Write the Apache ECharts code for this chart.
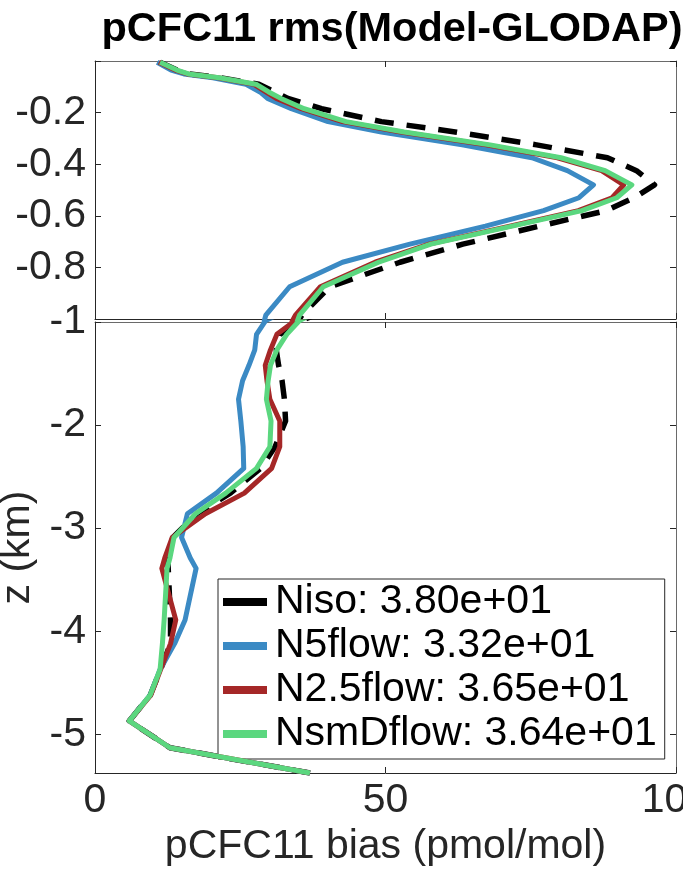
<!DOCTYPE html>
<html>
<head>
<meta charset="utf-8">
<script src="https://cdn.jsdelivr.net/npm/echarts@6/dist/echarts.min.js"></script>
<style>
  html, body { margin: 0; padding: 0; background: #ffffff; }
  #chart { width: 683px; height: 871px; }
</style>
</head>
<body>
<div id="chart"></div>
<script>
// Depth levels (km, negative downward) shared by every profile
const depthKm = [
  -0.005, -0.035, -0.05, -0.065, -0.09, -0.12, -0.145, -0.185, -0.235, -0.275,
  -0.325, -0.375, -0.425, -0.48, -0.53, -0.58, -0.64, -0.71, -0.78, -0.875,
  -0.985, -1.12, -1.27, -1.42, -1.57, -1.75, -1.96, -2.21, -2.42, -2.66,
  -2.86, -3.09, -3.29, -3.39, -3.89, -4.12, -4.37, -4.62, -4.87, -5.13, -5.375
];

// rms(Model - GLODAP) pCFC11 bias profiles, pmol/mol
const nisoBias = [
  11.2, 14.1, 16.2, 21.6, 28.2, 31.0, 33.2, 39.0, 49.3, 62.0,
  76.0, 88.2, 93.2, 96.3, 92.8, 88.0, 76.5, 63.3, 52.5, 40.4,
  35.6, 31.8, 31.2, 31.6, 32.2, 32.6, 32.8, 31.0, 28.5, 23.3,
  17.5, 13.4, 12.5, 12.6, 13.0, 13.0, 11.3, 9.5, 5.9, 12.9, 37.0
];
const n5flowBias = [
  10.7, 13.1, 15.3, 20.3, 26.0, 28.4, 29.7, 33.8, 40.1, 49.3,
  63.2, 75.2, 81.3, 85.8, 83.3, 77.2, 67.2, 54.2, 42.6, 33.5,
  29.4, 27.8, 27.5, 26.5, 25.4, 24.7, 25.1, 25.5, 25.6, 20.9,
  15.9, 14.9, 16.4, 17.4, 15.5, 13.7, 11.2, 9.5, 5.9, 12.9, 37.0
];
const n25flowBias = [
  11.0, 13.8, 15.9, 21.2, 27.3, 29.4, 31.2, 35.5, 42.6, 52.6,
  67.3, 79.6, 87.2, 91.0, 89.0, 83.2, 71.4, 57.5, 48.2, 38.8,
  34.5, 31.3, 30.2, 29.3, 29.6, 30.1, 31.8, 31.8, 30.4, 25.7,
  19.0, 13.3, 12.0, 11.5, 13.9, 13.0, 11.3, 9.6, 5.9, 12.9, 37.0
];
const nsmDflowBias = [
  11.2, 14.1, 16.1, 21.4, 27.7, 29.9, 32.0, 36.0, 43.2, 53.2,
  68.0, 80.2, 87.8, 92.4, 89.8, 83.8, 71.8, 57.8, 48.8, 39.3,
  35.2, 33.0, 31.3, 30.2, 29.8, 29.5, 30.3, 30.1, 27.8, 22.5,
  17.3, 13.6, 12.9, 12.4, 11.9, 11.6, 11.2, 9.5, 5.9, 12.9, 37.0
];

const seriesNames = ['Niso: 3.80e+01', 'N5flow: 3.32e+01', 'N2.5flow: 3.65e+01', 'NsmDflow: 3.64e+01'];
const seriesColors = ['#000000', '#3b8ac4', '#a52727', '#5bd77f'];
const seriesDash = [[19, 13], 'solid', 'solid', 'solid'];
const profiles = [nisoBias, n5flowBias, n25flowBias, nsmDflowBias];

// Axis ranges and tick values
const xRange = [0, 100];
const xTickStep = 50;
const upperRange = [-1, 0];
const upperTickStep = 0.2;
const lowerRange = [-5.375, -1];
const lowerTicks = [-5, -4, -3, -2, -1];

const FONT = '"Liberation Sans", Arial, Helvetica, sans-serif';
const FS = 41;
const AXIS_COLOR = '#262626';
const EDGE_COLOR = '#6a6a6a';

const chart = echarts.init(document.getElementById('chart'), null, { renderer: 'canvas' });

function xAxisDef(gridIndex, position, withLabels) {
  return {
    type: 'value', gridIndex, position,
    min: xRange[0], max: xRange[1], interval: xTickStep,
    axisLine: { show: true, onZero: false, lineStyle: { color: position === 'top' ? EDGE_COLOR : AXIS_COLOR, width: 1 } },
    axisTick: { show: true, inside: true, length: 6, lineStyle: { color: AXIS_COLOR } },
    axisLabel: { show: withLabels, margin: 7, fontSize: FS, fontFamily: FONT, color: AXIS_COLOR, hideOverlap: false },
    splitLine: { show: false }
  };
}

function yAxisDef(gridIndex, position, range, withLabels, extra) {
  return Object.assign({
    type: 'value', gridIndex, position,
    min: range[0], max: range[1],
    axisLine: { show: true, onZero: false, lineStyle: { color: position === 'right' ? EDGE_COLOR : AXIS_COLOR, width: 1 } },
    axisTick: { show: true, inside: true, length: 6, lineStyle: { color: AXIS_COLOR } },
    axisLabel: { show: withLabels, margin: 9, fontSize: FS, fontFamily: FONT, color: AXIS_COLOR },
    splitLine: { show: false }
  }, extra || {});
}

const upperLabelFmt = v => (Math.abs(v) < 1e-9 || Math.abs(v + 1) < 1e-9) ? '' : String(Number(v.toFixed(1)));

const xAxes = [
  xAxisDef(0, 'bottom', false),
  xAxisDef(0, 'top', false),
  Object.assign(xAxisDef(1, 'bottom', true), {
    name: 'pCFC11 bias (pmol/mol)', nameLocation: 'middle', nameGap: 52,
    nameTextStyle: { fontSize: FS, fontFamily: FONT, color: AXIS_COLOR }
  }),
  xAxisDef(1, 'top', false)
];

const upperLeft = yAxisDef(0, 'left', upperRange, true, { interval: upperTickStep });
upperLeft.axisLabel.formatter = upperLabelFmt;
const upperRight = yAxisDef(0, 'right', upperRange, false, { interval: upperTickStep });

const lowerLeft = yAxisDef(1, 'left', lowerRange, true, {
  name: 'z (km)', nameLocation: 'middle', nameGap: 57, nameRotate: 90,
  nameTextStyle: { fontSize: FS, fontFamily: FONT, color: AXIS_COLOR }
});
lowerLeft.axisLabel.customValues = lowerTicks;
lowerLeft.axisTick.customValues = lowerTicks;
const lowerRight = yAxisDef(1, 'right', lowerRange, false);
lowerRight.axisLabel.customValues = lowerTicks;
lowerRight.axisTick.customValues = lowerTicks;

const series = [];
[0, 1].forEach(panel => {
  profiles.forEach((vals, i) => {
    series.push({
      type: 'line',
      name: seriesNames[i],
      xAxisIndex: panel * 2,
      yAxisIndex: panel * 2,
      data: depthKm.map((z, k) => [vals[k], z]),
      symbol: 'none',
      clip: true,
      z: 2 + i,
      itemStyle: { color: seriesColors[i] },
      lineStyle: { color: seriesColors[i], width: i === 0 ? 5.5 : 5, type: seriesDash[i], cap: 'butt', join: 'round' }
    });
  });
});

chart.setOption({
  animation: false,
  backgroundColor: '#ffffff',
  title: {
    text: 'pCFC11 rms(Model-GLODAP)',
    left: 387, top: 4, textAlign: 'center',
    textStyle: { fontSize: 41.5, fontWeight: 'bold', fontFamily: FONT, color: '#000000' }
  },
  grid: [
    { left: 95, top: 61, width: 581, height: 258, outerBoundsMode: 'none', containLabel: false },
    { left: 95, top: 322, width: 581, height: 451, outerBoundsMode: 'none', containLabel: false }
  ],
  xAxis: xAxes,
  yAxis: [upperLeft, upperRight, lowerLeft, lowerRight],
  legend: {
    data: seriesNames,
    orient: 'vertical',
    left: 218, top: 579,
    icon: 'rect',
    itemWidth: 44, itemHeight: 8, itemGap: 0,
    padding: [1, 8, 3, 5],
    backgroundColor: '#ffffff',
    borderColor: AXIS_COLOR, borderWidth: 1,
    selectedMode: false,
    textStyle: { fontSize: FS, fontFamily: FONT, color: '#000000', lineHeight: 44, width: 380, padding: [0, 0, 0, 3] }
  },
  series
});
</script>
</body>
</html>
